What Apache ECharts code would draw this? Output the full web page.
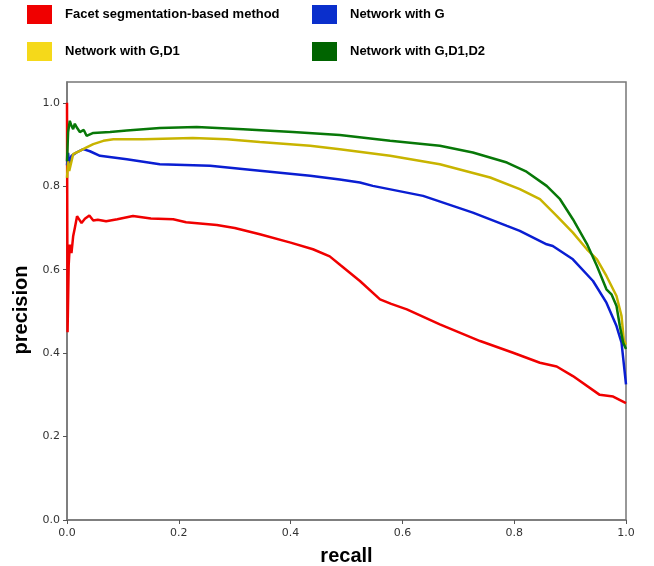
<!DOCTYPE html>
<html>
<head>
<meta charset="utf-8">
<script src="https://cdn.jsdelivr.net/npm/echarts@6/dist/echarts.min.js"></script>
<style>
  html, body { margin: 0; padding: 0; background: #fff; }
  #pr_chart { width: 654px; height: 566px; }
</style>
</head>
<body>
<div id="pr_chart"></div>
<script>
// recall / precision pairs
var facet_pr = [[0,1.0],[0.001,0.45],[0.003,0.61],[0.005,0.66],[0.008,0.64],[0.011,0.68],[0.014,0.70],[0.018,0.728],[0.022,0.72],[0.026,0.712],[0.032,0.722],[0.04,0.73],[0.047,0.718],[0.055,0.72],[0.07,0.716],[0.09,0.721],[0.118,0.729],[0.15,0.723],[0.19,0.721],[0.213,0.714],[0.268,0.707],[0.3,0.70],[0.345,0.685],[0.4,0.665],[0.44,0.649],[0.47,0.632],[0.49,0.61],[0.524,0.573],[0.56,0.529],[0.58,0.518],[0.608,0.505],[0.667,0.469],[0.739,0.429],[0.798,0.401],[0.846,0.377],[0.876,0.368],[0.905,0.345],[0.953,0.300],[0.977,0.296],[1.0,0.28]];
var g_pr = [[0,0.85],[0.002,0.88],[0.004,0.853],[0.008,0.873],[0.017,0.881],[0.029,0.889],[0.041,0.884],[0.059,0.873],[0.107,0.865],[0.166,0.853],[0.256,0.849],[0.345,0.837],[0.435,0.825],[0.488,0.816],[0.524,0.809],[0.547,0.801],[0.637,0.777],[0.726,0.737],[0.787,0.705],[0.81,0.693],[0.858,0.661],[0.869,0.657],[0.905,0.625],[0.941,0.573],[0.965,0.521],[0.983,0.465],[0.992,0.425],[1.0,0.325]];
var gd1_pr = [[0,0.82],[0.002,0.86],[0.004,0.837],[0.011,0.877],[0.023,0.885],[0.035,0.893],[0.047,0.901],[0.065,0.909],[0.083,0.913],[0.136,0.913],[0.225,0.916],[0.286,0.913],[0.345,0.906],[0.435,0.897],[0.488,0.889],[0.578,0.873],[0.667,0.853],[0.757,0.821],[0.81,0.793],[0.846,0.769],[0.876,0.729],[0.905,0.689],[0.93,0.649],[0.948,0.625],[0.965,0.585],[0.983,0.537],[0.992,0.489],[0.996,0.433],[1.0,0.42]];
var gd1d2_pr = [[0,0.86],[0.002,0.93],[0.005,0.957],[0.008,0.945],[0.011,0.937],[0.014,0.95],[0.017,0.942],[0.023,0.93],[0.03,0.935],[0.035,0.921],[0.047,0.928],[0.077,0.93],[0.107,0.934],[0.166,0.94],[0.232,0.942],[0.315,0.937],[0.404,0.93],[0.488,0.923],[0.578,0.909],[0.667,0.897],[0.726,0.881],[0.787,0.857],[0.822,0.835],[0.858,0.801],[0.882,0.769],[0.905,0.721],[0.93,0.662],[0.948,0.609],[0.965,0.553],[0.974,0.541],[0.983,0.513],[0.989,0.465],[0.995,0.425],[1.0,0.41]];
var series_names = ['Facet segmentation-based method', 'Network with G', 'Network with G,D1', 'Network with G,D1,D2'];
var tick_values = [0, 0.2, 0.4, 0.6, 0.8, 1.0];

var line_colors = ['#f00000', '#0a1ed2', '#c8b400', '#087808'];
var legend_colors = ['#f00000', '#0a2fcc', '#f5d91a', '#006400'];

var myChart = echarts.init(document.getElementById('pr_chart'));

function legend_item(i) {
  return {name: series_names[i], itemStyle: {color: legend_colors[i]}};
}
var legend_base = {
  orient: 'vertical',
  top: 0,
  icon: 'rect',
  itemWidth: 25,
  itemHeight: 19,
  itemGap: 18,
  selectedMode: false,
  textStyle: {
    fontFamily: 'Liberation Sans',
    fontWeight: 'bold',
    fontSize: 13,
    color: '#000',
    padding: [3, 0, 0, 8]
  }
};

function make_series(i, data) {
  return {
    name: series_names[i],
    type: 'line',
    data: data,
    showSymbol: false,
    symbol: 'none',
    lineStyle: {color: line_colors[i], width: 2.5},
    itemStyle: {color: line_colors[i]},
    z: 2 + i
  };
}

var axis_label = {
  fontFamily: 'DejaVu Sans',
  fontSize: 11,
  color: '#333',
  formatter: function(v) { return v.toFixed(1); }
};

var option = {
  animation: false,
  backgroundColor: '#fff',
  legend: [
    Object.assign({}, legend_base, {left: 22, data: [legend_item(0), legend_item(2)]}),
    Object.assign({}, legend_base, {left: 307, data: [legend_item(1), legend_item(3)]})
  ],
  grid: {
    left: 67,
    right: 28,
    top: 82,
    bottom: 46,
    outerBoundsMode: 'none',
    containLabel: false,
    show: true,
    borderColor: '#777',
    borderWidth: 1.5
  },
  xAxis: {
    type: 'value',
    min: 0,
    max: 1,
    interval: 0.2,
    name: 'recall',
    nameLocation: 'middle',
    nameGap: 26,
    nameTextStyle: {fontFamily: 'Liberation Sans', fontWeight: 'bold', fontSize: 20, color: '#000'},
    splitLine: {show: false},
    axisLine: {lineStyle: {color: '#777', width: 1.5}},
    axisTick: {length: 4, lineStyle: {color: '#555'}},
    axisLabel: Object.assign({margin: 8}, axis_label)
  },
  yAxis: {
    type: 'value',
    min: 0,
    max: 1.05,
    name: 'precision',
    nameLocation: 'middle',
    nameGap: 32,
    nameTextStyle: {fontFamily: 'Liberation Sans', fontWeight: 'bold', fontSize: 20, color: '#000', padding: [0, 0, 0, -18]},
    splitLine: {show: false},
    axisLine: {show: true, lineStyle: {color: '#777', width: 1.5}},
    axisTick: {show: true, length: 4, customValues: tick_values, lineStyle: {color: '#555'}},
    axisLabel: Object.assign({margin: 7, customValues: tick_values}, axis_label)
  },
  series: [
    make_series(0, facet_pr),
    make_series(1, g_pr),
    make_series(2, gd1_pr),
    make_series(3, gd1d2_pr)
  ]
};
myChart.setOption(option);
</script>
</body>
</html>
